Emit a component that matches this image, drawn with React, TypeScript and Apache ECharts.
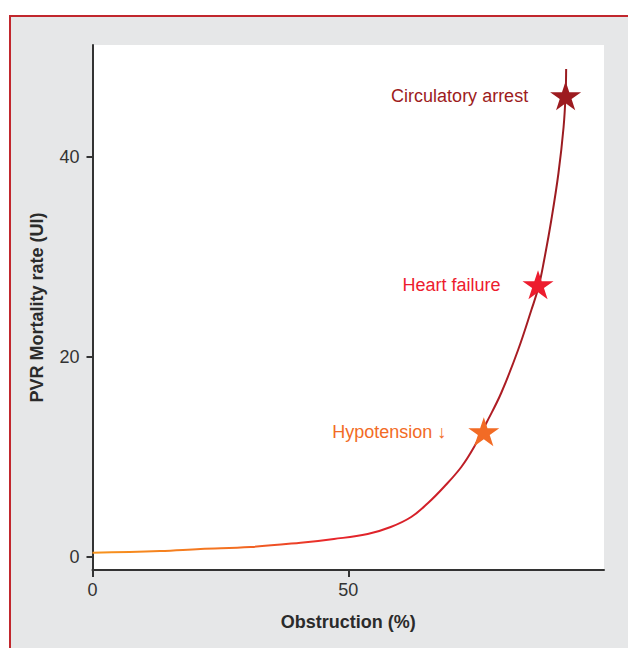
import React, { useEffect, useRef } from "react";
import * as echarts from "echarts";

// Curve: PVR / mortality vs obstruction
const obstruction = [0, 13.2, 21.1, 30.9, 40.7, 47.2, 53.8, 58.3, 62.3, 65.6, 68.7, 72.1, 74.6, 77.0, 79.9, 83.2, 85.8, 87.2, 88.3, 89.7, 91.1, 92.1, 92.5, 92.6];
const mortality = [0.4, 0.57, 0.77, 0.97, 1.4, 1.77, 2.27, 2.97, 3.97, 5.37, 6.97, 8.97, 10.97, 13.37, 16.37, 20.67, 24.67, 26.97, 29.67, 33.67, 38.37, 42.97, 46.37, 48.77];

// Clinical events marked with stars
const eventNames = ["Hypotension ↓", "Heart failure", "Circulatory arrest"];
const eventX = [76.5, 87.1, 92.5];
const eventY = [12.5, 27.2, 46.1];

// Tick labels
const xTicks = [0, 50];
const yTicks = [0, 20, 40];

const eventColors = ["#f26b25", "#ed1c2e", "#9d1b20"];
const FONT = "'Liberation Sans', Arial, sans-serif";
const STAR = "path://M50 0 L61.23 34.55 L97.55 34.55 L68.17 55.9 L79.39 90.45 L50 69.1 L20.61 90.45 L31.83 55.9 L2.45 34.55 L38.77 34.55 Z";

export default function App() {
  const ref = useRef<HTMLDivElement>(null);
  useEffect(() => {
    if (!ref.current) return;
    const chart = echarts.init(ref.current, null, { renderer: "svg" });
    const lineData = obstruction.map((x, i) => [x, mortality[i]]);
    const starData = eventNames.map((n, i) => ({
      name: n,
      value: [eventX[i], eventY[i]],
      itemStyle: { color: eventColors[i], opacity: 1 },
      label: { color: eventColors[i] },
    }));
    chart.setOption({
      animation: false,
      backgroundColor: "#ffffff",
      graphic: [
        {
          type: "rect",
          z: -1,
          silent: true,
          shape: { x: 10, y: 16, width: 660, height: 680 },
          style: { fill: "#e6e7e8", stroke: "#c1272d", lineWidth: 2 },
        },
      ],
      grid: {
        left: 92.5,
        right: 24,
        top: 45,
        bottom: 78,
        show: true,
        backgroundColor: "#ffffff",
        borderWidth: 0,
      },
      xAxis: {
        type: "value",
        min: 0,
        max: 100,
        name: "Obstruction (%)",
        nameLocation: "middle",
        nameGap: 43,
        nameTextStyle: { fontFamily: FONT, fontSize: 18, fontWeight: "bold", color: "#2b2b2b" },
        axisLine: { show: true, onZero: false, lineStyle: { color: "#333333", width: 2 } },
        axisTick: { show: true, length: 7, customValues: xTicks, lineStyle: { color: "#333333", width: 2 } },
        axisLabel: { customValues: xTicks, margin: 11, fontFamily: FONT, fontSize: 18, color: "#333333" },
        splitLine: { show: false },
      },
      yAxis: {
        type: "value",
        min: -1.33,
        max: 51.17,
        name: "PVR Mortality rate (UI)",
        nameLocation: "middle",
        nameGap: 47,
        nameTextStyle: { fontFamily: FONT, fontSize: 18, fontWeight: "bold", color: "#2b2b2b" },
        axisLine: { show: true, onZero: false, lineStyle: { color: "#333333", width: 2 } },
        axisTick: { show: true, length: 6, customValues: yTicks, lineStyle: { color: "#333333", width: 2 } },
        axisLabel: { customValues: yTicks, margin: 13, fontFamily: FONT, fontSize: 18, color: "#333333" },
        splitLine: { show: false },
      },
      series: [
        {
          type: "line",
          data: lineData,
          smooth: 0.4,
          showSymbol: false,
          silent: true,
          lineStyle: {
            width: 2,
            color: new echarts.graphic.LinearGradient(0, 0, 1, 0, [
              { offset: 0, color: "#f7941d" },
              { offset: 0.3, color: "#f36f21" },
              { offset: 0.5, color: "#e8262b" },
              { offset: 0.7, color: "#d42029" },
              { offset: 0.82, color: "#b31d25" },
              { offset: 1, color: "#9a1b20" },
            ]),
          },
          z: 2,
        },
        {
          type: "scatter",
          data: starData,
          symbol: STAR,
          symbolSize: [31, 29],
          z: 3,
          itemStyle: { opacity: 1 },
          label: {
            show: true,
            position: "left",
            distance: 22,
            formatter: "{b}",
            fontFamily: FONT,
            fontSize: 18,
          },
        },
      ],
    });
    return () => chart.dispose();
  }, []);
  return (
    <div
      ref={ref}
      style={{ position: "fixed", left: 0, top: 0, width: 628, height: 648 }}
    />
  );
}
